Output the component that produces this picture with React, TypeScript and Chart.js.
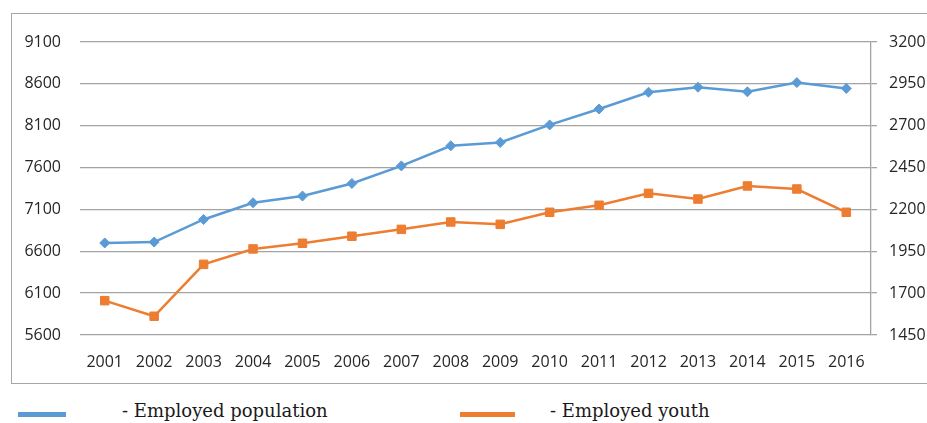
import React, { useEffect, useRef } from "react";
import { Chart, registerables } from "chart.js";

Chart.register(...registerables);

const years = ["2001", "2002", "2003", "2004", "2005", "2006", "2007", "2008", "2009", "2010", "2011", "2012", "2013", "2014", "2015", "2016"];
const employedPopulation = [6700, 6710, 6980, 7180, 7260, 7410, 7620, 7860, 7900, 8110, 8300, 8500, 8560, 8505, 8615, 8545];
const employedYouth = [1655, 1562, 1872, 1964, 1998, 2040, 2081, 2125, 2111, 2183, 2225, 2296, 2262, 2340, 2322, 2183];
const leftMin = 5600;
const leftMax = 9100;
const leftStep = 500;
const rightMin = 1450;
const rightMax = 3200;
const rightStep = 250;
const seriesNames = ["- Employed population", "- Employed youth"];

const BLUE = "#5b9bd5";
const ORANGE = "#ed7d31";
const GRID = "#a3a3a3";
const TEXT = "#262626";

export default function App() {
  const ref = useRef<HTMLCanvasElement | null>(null);

  useEffect(() => {
    if (!ref.current) return;
    const chart = new Chart(ref.current, {
      type: "line",
      data: {
        labels: years,
        datasets: [
          {
            label: seriesNames[0],
            data: employedPopulation,
            yAxisID: "y",
            borderColor: BLUE,
            backgroundColor: BLUE,
            borderWidth: 2.5,
            pointStyle: "rectRot",
            pointRadius: 5,
            pointBorderWidth: 1,
            tension: 0,
          },
          {
            label: seriesNames[1],
            data: employedYouth,
            yAxisID: "y1",
            borderColor: ORANGE,
            backgroundColor: ORANGE,
            borderWidth: 2.5,
            pointStyle: "rect",
            pointRadius: 6,
            pointBorderWidth: 1,
            tension: 0,
          },
        ],
      },
      options: {
        responsive: false,
        animation: false,
        devicePixelRatio: 1,
        layout: { padding: { top: 42, left: 0, right: 0, bottom: 0 } },
        plugins: { legend: { display: false }, tooltip: { enabled: false } },
        scales: {
          x: {
            offset: true,
            grid: { display: false },
            border: { display: false },
            ticks: {
              color: TEXT,
              font: { family: "'Open Sans'", size: 16 },
              padding: 10,
              maxRotation: 0,
              autoSkip: false,
            },
            afterFit: (s: any) => {
              s.height = 51;
            },
          },
          y: {
            position: "left",
            min: leftMin,
            max: leftMax,
            grid: { color: GRID, lineWidth: 1.3, drawTicks: false },
            border: { display: false },
            ticks: {
              stepSize: leftStep,
              color: TEXT,
              font: { family: "'Open Sans'", size: 16 },
              padding: 19,
              callback: (v: any) => String(v),
            },
            afterFit: (s: any) => {
              s.width = 80;
            },
          },
          y1: {
            position: "right",
            min: rightMin,
            max: rightMax,
            grid: { drawOnChartArea: false, color: GRID, lineWidth: 1.3, drawTicks: true, tickLength: 6 },
            border: { display: true, color: GRID, width: 1.3 },
            ticks: {
              stepSize: rightStep,
              color: TEXT,
              font: { family: "'Open Sans'", size: 16 },
              padding: 12,
              callback: (v: any) => String(v),
            },
            afterFit: (s: any) => {
              s.width = 56;
            },
          },
        },
      },
    });
    return () => chart.destroy();
  }, []);

  return (
    <div style={{ position: "fixed", left: 0, top: 0, width: 927, height: 423, background: "#fff", overflow: "hidden" }}>
      <div
        style={{
          position: "absolute",
          left: 11,
          top: 13,
          width: 930,
          height: 371,
          border: "1.3px solid #a6a6a6",
          boxSizing: "border-box",
        }}
      />
      <canvas ref={ref} width={927} height={386} style={{ position: "absolute", left: 0, top: 0, width: 927, height: 386 }} />
      <div style={{ position: "absolute", left: 18, top: 412, width: 48, height: 5, background: BLUE }} />
      <div style={{ position: "absolute", left: 460, top: 412, width: 55, height: 5, background: ORANGE }} />
      <div
        style={{
          position: "absolute",
          left: 122,
          top: 400,
          fontFamily: "'DejaVu Serif'",
          fontSize: 18,
          lineHeight: "22px",
          color: "#1a1a1a",
          whiteSpace: "nowrap",
        }}
      >
        {seriesNames[0]}
      </div>
      <div
        style={{
          position: "absolute",
          left: 550,
          top: 400,
          fontFamily: "'DejaVu Serif'",
          fontSize: 18,
          lineHeight: "22px",
          color: "#1a1a1a",
          whiteSpace: "nowrap",
        }}
      >
        {seriesNames[1]}
      </div>
    </div>
  );
}
